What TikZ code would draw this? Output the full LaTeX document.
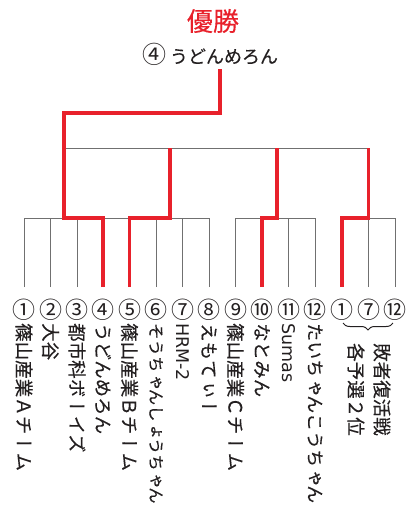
\documentclass[tikz,border=0pt]{standalone}
\usepackage{fontspec}
\usetikzlibrary{decorations.pathreplacing,calc}
\newfontfamily\jp[FakeBold=0.2]{Noto Sans CJK JP}
\newfontfamily\jpn{Noto Sans CJK JP}
\newfontfamily\vjp[Vertical=RotatedGlyphs,FakeBold=0.3]{Noto Sans CJK JP}
\newfontfamily\lat{DejaVu Sans}
\definecolor{wred}{HTML}{E8212B}
\definecolor{lgray}{HTML}{707070}
\definecolor{ink}{HTML}{231F20}
\begin{document}
\begin{tikzpicture}[x=1pt,y=-1pt,
  gl/.style={draw=lgray, line width=1pt},
  rl/.style={draw=wred, line width=3.3pt, line join=miter},
  num/.style={font=\jpn\fontsize{23}{23}\selectfont, text=ink, inner sep=0pt},
  vname/.style={font=\vjp\fontsize{18.5}{18.5}\selectfont, text=ink, rotate=-90, anchor=west, inner sep=0pt},
  lname/.style={font=\lat\fontsize{17.5}{18}\selectfont, text=ink, rotate=-90, anchor=west, inner sep=0pt},
  bracestyle/.style={draw=ink, line width=1pt, decorate, decoration={brace, amplitude=7pt, mirror}},
]
\useasboundingbox (0,0) rectangle (406,507);

% leaves
\foreach \i/\x in {1/24,2/50.5,3/77,4/103,5/129.5,6/156,7/182.5,8/209,9/235.5,10/262,11/288.5,12/315,13/342,14/368.5,15/395}{
  \coordinate (b\i) at (\x,287);
  \coordinate (t\i) at (\x,218);
}
\foreach \i in {1,...,15} \draw[gl] (b\i) -- (t\i);
\draw[gl] (t1) -- (t8);
\draw[gl] (t9) -- (t12);
\draw[gl] (t13) -- (t15);

% junctions
\coordinate (s1) at (64,218);  \coordinate (u1) at (64,148);
\coordinate (s2) at (170,218); \coordinate (u2) at (170,148);
\coordinate (s3) at (277,218); \coordinate (u3) at (277,148);
\coordinate (s4) at (368.5,218); \coordinate (u4) at (368.5,148);
\coordinate (f1) at (64,113);
\coordinate (f2) at (220,113);
\coordinate (f3) at (220,69);
\draw[gl] (u1) -- (u4);

% title
\node[font=\jp\fontsize{26}{26}\selectfont, text=wred, inner sep=0pt] (title) at (213,21) {優勝};
\node[font=\jp\fontsize{18}{18}\selectfont, text=ink, inner sep=0pt] (champ) at (210,54) {{\jpn\fontsize{24}{24}\selectfont ④}\hspace{4pt}うどんめろん};

% red winner paths
\draw[rl] (b4) -- (t4) -- (s1) -- (u1) -- (f1) -- (f2) -- (f3);
\draw[rl] (b5) -- (t5) -- (s2) -- (u2);
\draw[rl] (b10) -- (t10) -- (s3) -- (u3);
\draw[rl] (b13) -- (t13) -- (s4) -- (u4);

% seed numbers
\foreach \i/\n in {1/①,2/②,3/③,4/④,5/⑤,6/⑥,7/⑦,8/⑧,9/⑨,10/⑩,11/⑪,12/⑫,13/①,14/⑦,15/⑫}{
  \node[num] (n\i) at ($(b\i)+(0,23)$) {\n};
}

% team names
\node[vname] (m1) at ($(b1)+(0,36)$) {篠山産業Ａチーム};
\node[vname] (m2) at ($(b2)+(0,36)$) {大谷};
\node[vname] (m3) at ($(b3)+(0,36)$) {都市科ボーイズ};
\node[vname] (m4) at ($(b4)+(0,36)$) {うどんめろん};
\node[vname] (m5) at ($(b5)+(0,36)$) {篠山産業Ｂチーム};
\node[vname, font=\vjp\fontsize{16.4}{16.4}\selectfont] (m6) at ($(b6)+(0,36)$) {そうちゃんしょうちゃん};
\node[lname] (m7) at ($(b7)+(0,36)$) {HRM-2};
\node[vname] (m8) at ($(b8)+(0,36)$) {えもてぃー};
\node[vname] (m9) at ($(b9)+(0,36)$) {篠山産業Ｃチーム};
\node[vname] (m10) at ($(b10)+(0,36)$) {なとみん};
\node[lname] (m11) at ($(b11)+(0,36)$) {Sumas};
\node[vname, font=\vjp\fontsize{18}{18}\selectfont] (m12) at ($(b12)+(0,36)$) {たいちゃんこうちゃん};

% repechage brace and note
\coordinate (brL) at (343,323);
\coordinate (brR) at (393,323);
\draw[bracestyle] (brL) -- (brR);
\node[vname] (r1) at (382,343) {敗者復活戦};
\node[vname] (r2) at (356,343) {各予選２位};
\end{tikzpicture}
\end{document}
